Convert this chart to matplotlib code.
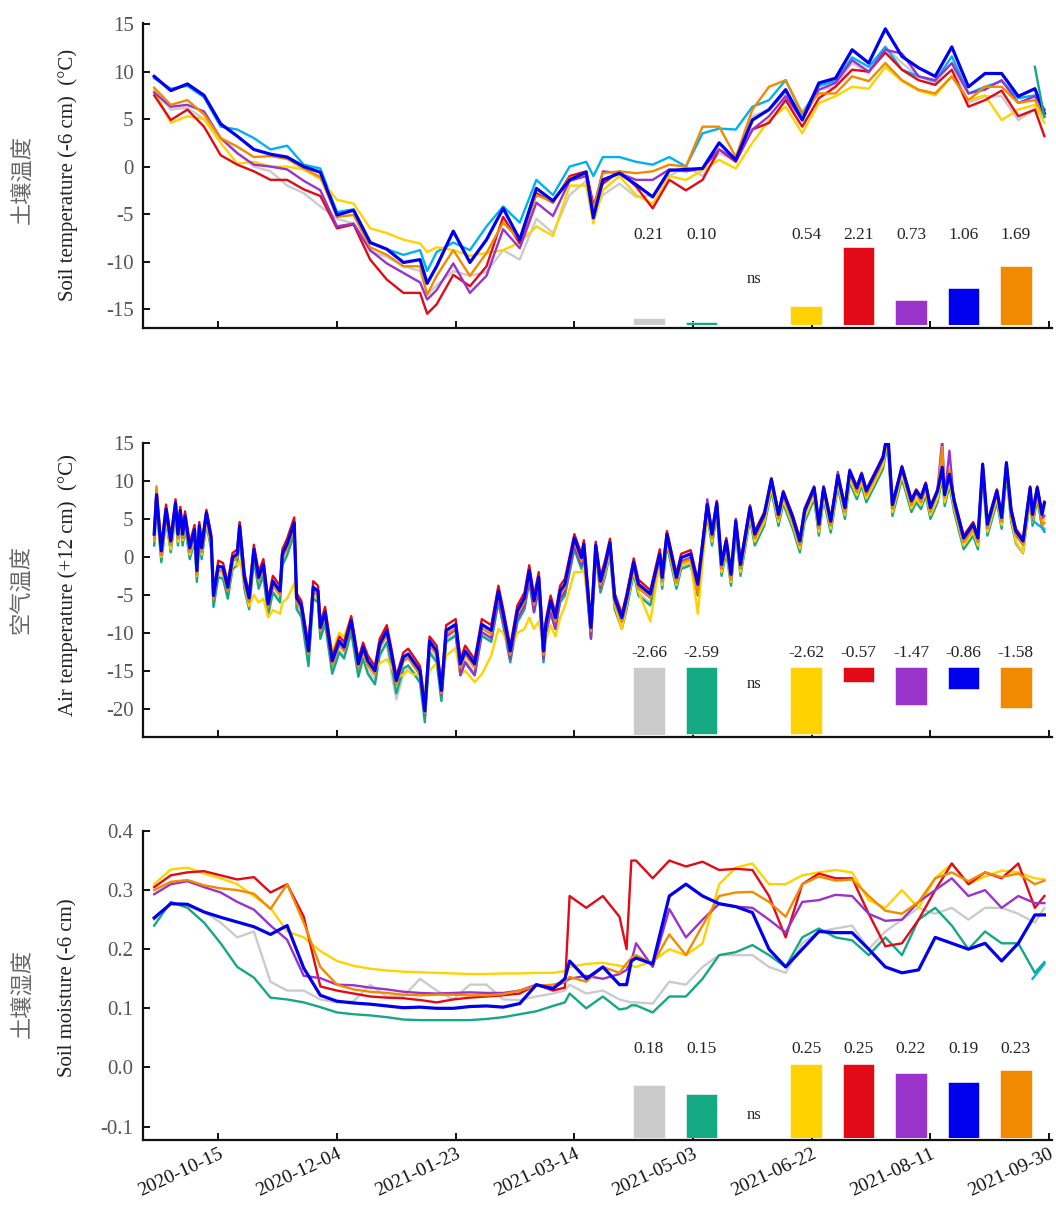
import numpy as np
import pandas as pd
import matplotlib
matplotlib.use("Agg")
import matplotlib.pyplot as plt
import matplotlib.dates as mdates

plt.rcParams['font.family'] = ['Liberation Serif', 'DejaVu Serif']
plt.rcParams['axes.unicode_minus'] = False

# ---------------- data ----------------
start_day = pd.Timestamp('2020-09-18')

# panel 1 : soil temperature (-6 cm) -- day offsets from start_day
soil_t_days = [0, 7, 14, 21, 28, 35, 42, 49, 56, 63, 70, 77, 84, 91, 98, 105, 112, 115, 119, 126, 133, 140, 147, 154,
               161, 168, 175, 182, 185, 189, 196, 203, 210, 217, 224, 231, 238, 245, 252, 259, 266, 273, 280, 287,
               294, 301, 308, 315, 322, 329, 336, 343, 350, 357, 364, 371, 375]
soil_t_gray = [8.0, 6.0, 6.2, 5.0, 3.0, 1.5, 0.0, -0.5, -2.0, -2.8, -4.2, -5.5, -6.0, -9.0, -9.5, -10.5, -11.0, -13.5,
               -12.5, -11.0, -11.5, -11.1, -8.8, -9.8, -5.5, -7.0, -3.0, -1.5, -5.0,
               -3.0, -1.8, -3.2, -3.0, -1.0, 0.0, -1.0, 1.4, 0.7, 5.3, 6.0, 7.7, 5.8, 8.1, 8.4, 10.9, 9.8, 12.6, 10.9,
               9.5, 8.8, 10.9, 6.7, 7.4, 7.4, 4.9, 6.0, 5.3]
soil_t_cyan = [9.3, 8.2, 8.5, 7.3, 4.2, 3.9, 3.0, 1.8, 2.2, 0.2, -0.2, -4.8, -4.5, -8.0, -8.7, -9.3, -8.8, -11.0,
               -9.0, -8.0, -8.8, -6.3, -4.2, -5.9, -1.4, -3.0, 0.0, 0.5, -1.0,
               1.0, 1.0, 0.5, 0.2, 1.0, 0.0, 3.5, 4.0, 3.9, 6.3, 7.0, 9.1, 5.5, 8.5, 9.0, 11.5, 10.5, 12.6, 10.2, 9.5,
               9.0, 11.6, 7.7, 8.4, 9.0, 7.2, 7.5, 6.0]
soil_t_yellow = [8.0, 4.6, 5.3, 5.0, 2.5, 0.3, 0.5, 0.0, 0.0, -0.3, -1.3, -3.5, -3.9, -6.5, -7.0, -7.7, -8.1, -9.0,
                 -8.5, -8.8, -9.4, -9.1, -8.8, -8.0, -6.3, -7.3, -2.0, -2.0, -6.0,
                 -2.5, -1.0, -3.0, -3.9, -1.0, -1.4, -0.4, 0.7, -0.2, 2.5, 4.9, 6.3, 3.5, 6.7, 7.4, 8.4, 8.2, 10.5, 9.0,
                 8.0, 7.5, 9.5, 7.0, 7.5, 4.9, 6.0, 6.5, 4.6]
soil_t_red = [7.5, 4.9, 6.0, 4.2, 1.2, 0.2, -0.5, -1.4, -1.4, -2.4, -3.1, -6.5, -6.1, -9.8, -11.9, -13.3, -13.3, -15.5,
              -14.5, -11.4, -12.6, -10.5, -5.3, -8.1, -2.8, -3.8, -1.0, -0.5, -4.0,
              -1.8, -0.5, -2.1, -4.4, -1.4, -2.5, -1.4, 1.8, 0.5, 3.9, 4.6, 7.0, 4.2, 7.2, 8.4, 10.2, 10.0, 12.0, 10.2,
              9.1, 8.6, 10.2, 6.3, 7.0, 8.0, 5.3, 6.0, 3.2]
soil_t_purple = [7.8, 6.3, 6.5, 5.8, 3.0, 1.4, 0.2, 0.0, -0.3, -1.5, -2.5, -6.3, -6.0, -8.8, -10.2, -11.2, -12.2, -14.0,
                 -13.0, -10.2, -13.3, -11.5, -6.6, -8.6, -3.8, -5.2, -1.5, -1.0, -4.5,
                 -0.5, -0.7, -1.4, -1.4, -0.3, -0.5, -0.2, 1.8, 0.7, 3.9, 5.3, 7.4, 4.9, 8.1, 8.8, 11.2, 10.0, 12.3,
                 11.9, 9.5, 9.1, 10.9, 7.7, 8.1, 9.1, 6.7, 7.4, 6.0]
soil_t_orange = [8.3, 6.5, 7.0, 5.5, 3.0, 2.1, 1.0, 1.1, 0.8, -0.2, -1.1, -5.3, -5.1, -8.5, -9.3, -10.5, -10.5, -13.5,
                 -11.5, -8.8, -11.5, -9.1, -5.9, -7.7, -3.0, -3.7, -1.2, -0.8, -4.5,
                 -0.7, -0.5, -0.7, -0.5, 0.2, 0.0, 4.2, 4.2, 1.0, 6.0, 8.4, 9.1, 5.6, 7.7, 7.7, 9.5, 9.0, 10.9, 9.1,
                 8.1, 7.7, 9.5, 7.0, 8.4, 8.4, 6.7, 7.0, 5.3]
soil_t_blue = [9.5, 8.0, 8.7, 7.5, 4.5, 3.2, 1.8, 1.3, 1.0, 0.0, -0.6, -5.1, -4.6, -8.0, -8.7, -10.1, -9.8, -12.3,
               -10.5, -6.8, -10.1, -7.7, -4.4, -7.7, -2.3, -3.6, -1.4, -0.6, -5.4,
               -1.4, -0.7, -1.9, -3.2, -0.4, -0.3, -0.2, 2.5, 0.7, 4.9, 6.0, 8.1, 4.9, 8.8, 9.3, 12.3, 10.9, 14.5, 11.6,
               10.4, 9.5, 12.6, 8.4, 9.8, 9.8, 7.4, 8.2, 5.6]
soil_t_green_days = [371, 375]
soil_t_green = [10.5, 5.2]

# panel 2 : air temperature (+12 cm)
air_t_days = [0, 1, 3, 5, 7, 9, 10, 11, 12, 13,
              15, 17, 18, 19, 20, 22, 24, 25, 27, 29,
              31, 33, 35, 36, 38, 40, 42, 44, 46, 48,
              50, 53, 54, 56, 59, 60, 62, 65, 67, 69,
              70, 72, 75, 78, 80, 83, 86, 88, 90, 93,
              95, 98, 100, 102, 105, 107, 109, 112, 114, 116,
              119, 121, 123, 127, 129, 131, 135, 138, 142, 145,
              147, 150, 153, 156, 158, 160, 162, 164, 165, 167,
              169, 171, 173, 177, 180, 181, 184, 186, 188, 190,
              192, 194, 197, 199, 202, 204, 209, 213, 214, 216,
              220, 222, 226, 229, 233, 235, 237, 239, 241, 243,
              245, 247, 251, 253, 257, 260, 263, 265, 269, 272,
              274, 278, 280, 282, 285, 288, 291, 293, 296, 298,
              300, 305, 307, 309, 311, 315, 319, 321, 323, 325,
              327, 330, 332, 333, 335, 337, 341, 345, 347, 349,
              351, 355, 357, 359, 361, 363, 366, 369, 370, 372,
              374, 375]
air_t_blue = [3.0, 8.2, 0.8, 6.3, 2.1, 7.1, 3.0, 6.1, 3.0, 5.4,
              1.2, 3.6, -1.8, 4.1, 1.2, 5.8, 2.5, -5.1, -1.2, -1.4,
              -4.0, -0.1, 0.4, 4.1, -2.7, -5.4, 1.0, -2.7, -1.0, -6.2,
              -3.2, -4.5, 0.4, 1.7, 4.5, -5.4, -6.4, -12.4, -4.0, -4.5,
              -9.3, -7.3, -13.7, -11.1, -11.9, -8.4, -14.1, -11.9, -13.7, -15.0,
              -11.5, -9.7, -12.8, -16.3, -13.2, -12.8, -13.7, -15.0, -20.3, -11.1,
              -12.4, -17.6, -9.7, -8.9, -14.1, -12.4, -14.1, -8.9, -9.7, -4.5,
              -7.5, -12.4, -7.1, -5.4, -1.8, -5.8, -2.7, -12.4, -8.9, -5.8,
              -8.0, -4.5, -3.6, 2.5, -0.1, 1.7, -9.3, 1.5, -3.2, -1.0,
              1.9, -5.4, -8.0, -5.4, -0.7, -3.6, -4.9, 0.4, -2.7, 3.0,
              -2.7, -0.1, 0.4, -3.6, 6.9, 3.0, 7.1, -1.0, 2.1, -2.3,
              4.7, -1.0, 6.5, 3.0, 5.6, 10.2, 5.6, 8.5, 5.2, 2.1,
              6.1, 9.1, 4.3, 9.1, 4.7, 10.7, 6.5, 11.3, 9.1, 10.9,
              8.7, 11.8, 13.1, 16.4, 6.9, 11.8, 7.4, 8.7, 7.8, 9.6,
              6.5, 8.7, 11.8, 8.2, 10.9, 7.4, 2.5, 4.3, 2.5, 12.2,
              4.3, 8.7, 5.2, 12.4, 6.1, 3.4, 2.1, 9.1, 5.6, 9.1,
              5.6, 7.1]
air_t_red = [3.4, 8.8, 1.3, 6.9, 2.6, 7.6, 3.5, 6.6, 3.5, 6.0,
             1.8, 4.2, -1.2, 4.6, 1.8, 6.2, 3.0, -4.6, -0.5, -0.8,
             -3.4, 0.5, 1.0, 4.6, -2.1, -4.8, 1.6, -2.0, -0.3, -5.6,
             -2.5, -3.8, 1.0, 2.4, 5.2, -4.8, -5.8, -11.8, -3.2, -3.8,
             -8.7, -6.6, -13.1, -10.5, -11.2, -7.8, -13.5, -11.3, -13.0, -14.4,
             -10.8, -9.0, -12.2, -15.7, -12.6, -12.1, -13.0, -14.4, -19.8, -10.5,
             -11.7, -17.0, -9.0, -8.2, -13.5, -11.7, -13.5, -8.2, -9.0, -3.8,
             -6.8, -11.8, -6.4, -4.7, -1.1, -5.1, -2.0, -11.8, -8.3, -5.1,
             -7.4, -3.8, -2.9, 3.0, 0.4, 2.2, -8.8, 2.0, -2.6, -0.4,
             2.4, -4.8, -7.5, -4.9, -0.2, -3.0, -4.4, 1.0, -2.0, 3.4,
             -2.2, 0.4, 0.9, -3.1, 7.2, 3.4, 7.4, -0.6, 2.5, -1.9,
             5.0, -0.6, 6.8, 3.4, 5.9, 10.4, 5.9, 8.7, 5.5, 2.4,
             6.4, 9.3, 4.6, 9.3, 5.0, 10.9, 6.8, 11.5, 9.3, 11.1,
             8.9, 12.0, 13.3, 16.5, 7.1, 12.0, 7.6, 8.9, 8.0, 9.8,
             6.7, 8.9, 12.0, 8.4, 11.1, 7.6, 2.8, 4.6, 2.8, 12.3,
             4.6, 8.9, 5.5, 12.5, 6.4, 3.7, 2.4, 9.3, 5.9, 9.3,
             5.9, 7.3]
air_t_orange = [2.3, 9.3, 0.3, 5.8, 1.6, 6.6, 2.5, 5.6, 2.5, 4.9,
                0.7, 3.1, -2.3, 3.6, 0.7, 5.3, 2.0, -5.6, -1.7, -1.9,
                -4.5, -0.6, -0.1, 3.6, -3.2, -5.9, 0.5, -3.2, -1.5, -6.7,
                -3.7, -5.0, -0.1, 1.2, 4.0, -5.9, -6.9, -12.9, -4.5, -5.0,
                -9.8, -7.8, -14.2, -11.6, -12.4, -8.9, -14.6, -12.4, -14.2, -15.5,
                -12.0, -10.2, -13.3, -16.8, -13.7, -13.3, -14.2, -15.5, -20.6, -11.6,
                -12.9, -18.0, -10.2, -9.4, -14.6, -12.9, -14.6, -9.4, -10.2, -5.0,
                -8.0, -12.9, -7.6, -5.9, -2.3, -6.3, -3.2, -12.9, -9.4, -6.3,
                -8.5, -5.0, -4.1, 2.0, -0.6, 1.2, -9.8, 1.0, -3.7, -1.5,
                1.4, -5.9, -8.5, -5.9, -1.2, -4.1, -5.4, -0.1, -3.2, 2.5,
                -3.4, -0.8, -0.3, -4.8, 6.4, 2.5, 6.6, -1.5, 1.6, -3.0,
                4.2, -1.5, 6.0, 2.5, 5.1, 9.9, 5.1, 8.0, 4.7, 1.6,
                6.3, 8.6, 3.8, 8.8, 4.2, 10.2, 6.0, 10.8, 8.6, 10.4,
                8.2, 11.3, 12.8, 16.0, 6.4, 11.6, 6.9, 8.5, 7.3, 9.1,
                6.0, 8.6, 14.5, 7.8, 11.5, 6.9, 2.0, 3.8, 2.0, 11.8,
                3.8, 8.5, 4.7, 12.3, 5.6, 2.9, 1.6, 8.6, 5.1, 8.6,
                4.1, 4.5]
air_t_purple = [2.5, 7.6, 0.3, 5.7, 1.6, 6.6, 2.5, 5.6, 2.5, 4.9,
                0.7, 3.1, -2.3, 3.6, 0.7, 5.3, 2.0, -5.6, -1.7, -1.9,
                -4.5, -0.6, -0.1, 3.6, -3.2, -5.9, 0.5, -3.2, -1.5, -6.7,
                -3.7, -5.0, -0.1, 1.2, 4.0, -5.9, -6.9, -12.9, -4.5, -5.0,
                -9.8, -7.8, -14.2, -11.6, -12.4, -8.9, -14.6, -12.4, -14.2, -15.5,
                -12.0, -10.2, -13.3, -16.8, -13.7, -13.3, -14.2, -15.5, -20.8, -11.6,
                -12.9, -18.2, -10.5, -9.6, -15.6, -13.9, -15.6, -9.9, -10.7, -5.5,
                -8.5, -13.4, -8.1, -6.4, -2.8, -7.3, -3.7, -13.4, -9.9, -7.3,
                -9.5, -5.5, -4.6, 1.5, -1.1, 0.7, -10.8, 0.5, -4.2, -1.5,
                1.4, -5.9, -8.5, -5.9, -1.2, -4.1, -5.4, -0.1, -3.2, 2.5,
                -3.2, -0.6, -0.1, -4.1, 7.6, 2.5, 6.8, -1.5, 1.6, -2.8,
                4.4, -1.5, 6.2, 2.5, 5.3, 10.0, 5.1, 8.2, 4.7, 1.6,
                5.8, 8.9, 3.8, 9.3, 4.2, 11.2, 6.0, 11.5, 8.6, 10.6,
                8.4, 11.6, 12.9, 16.2, 6.4, 11.6, 6.9, 8.5, 7.3, 9.4,
                6.0, 9.0, 15.5, 8.0, 14.0, 6.9, 2.0, 3.8, 2.0, 11.9,
                3.8, 8.5, 4.7, 12.0, 5.6, 2.9, 1.6, 8.6, 5.1, 8.6,
                5.1, 5.4]
air_t_green = [1.5, 6.7, -0.7, 4.8, 0.6, 5.6, 1.5, 4.6, 1.5, 3.9,
               -0.3, 2.1, -3.3, 2.6, -0.3, 4.3, 1.0, -6.6, -2.7, -2.9,
               -5.5, -1.6, -1.1, 2.6, -4.2, -6.9, -0.5, -4.2, -2.5, -7.7,
               -4.7, -6.0, -1.1, 0.2, 3.0, -6.9, -7.9, -14.4, -5.5, -6.0,
               -10.8, -8.8, -15.4, -12.6, -13.4, -9.9, -15.8, -13.4, -15.4, -16.8,
               -13.0, -11.2, -14.3, -18.0, -14.7, -14.3, -15.2, -16.6, -21.8, -12.6,
               -13.9, -19.0, -11.2, -10.4, -15.6, -13.9, -15.6, -10.4, -11.2, -6.0,
               -9.0, -13.9, -8.6, -6.9, -3.3, -7.3, -4.2, -13.9, -10.4, -7.3,
               -9.5, -6.0, -5.1, 1.0, -1.6, 0.2, -10.8, -0.2, -4.7, -2.5,
               0.4, -6.9, -9.5, -6.9, -2.2, -5.1, -6.4, -1.1, -4.2, 1.5,
               -4.2, -1.6, -1.1, -5.1, 5.4, 1.5, 5.6, -2.5, 0.6, -3.8,
               3.2, -2.5, 5.0, 1.5, 4.1, 8.7, 4.1, 7.0, 3.7, 0.6,
               4.6, 7.6, 2.8, 7.6, 3.2, 9.2, 5.0, 9.8, 7.6, 9.4,
               7.2, 10.3, 11.6, 14.9, 5.4, 10.3, 5.9, 7.2, 6.3, 8.1,
               5.0, 7.2, 10.3, 6.7, 9.4, 5.9, 1.0, 2.8, 1.0, 10.7,
               2.8, 7.2, 3.7, 10.9, 4.6, 1.9, 0.6, 7.6, 4.1, 7.6,
               4.0, 3.3]
air_t_gray = [1.8, 7.0, -0.4, 5.1, 0.9, 5.9, 1.8, 4.9, 1.8, 4.2,
              0.0, 2.4, -3.0, 2.9, 0.0, 4.6, 1.3, -6.3, -2.4, -2.6,
              -5.2, -1.3, -0.8, 2.9, -3.9, -6.6, -0.2, -3.9, -2.2, -7.4,
              -4.4, -5.7, -0.8, 0.5, 3.3, -6.6, -7.6, -13.6, -5.2, -5.7,
              -10.5, -8.5, -14.9, -12.3, -13.1, -9.6, -15.3, -13.1, -14.9, -16.2,
              -12.7, -11.5, -15.5, -18.8, -15.5, -14.5, -15.0, -16.2, -21.0, -12.3,
              -13.6, -18.8, -10.9, -10.1, -15.3, -13.6, -15.3, -10.1, -10.9, -5.7,
              -8.7, -13.6, -8.3, -6.6, -3.0, -7.0, -3.9, -13.6, -10.1, -7.0,
              -9.2, -5.7, -4.8, 1.3, -1.3, 0.5, -10.5, 0.1, -4.4, -2.2,
              0.7, -6.6, -9.2, -6.6, -1.9, -4.8, -6.1, -0.8, -3.9, 1.8,
              -3.9, -1.3, -0.8, -4.8, 5.7, 1.8, 5.9, -2.2, 0.9, -3.5,
              3.5, -2.2, 5.3, 1.8, 4.4, 9.0, 4.4, 7.3, 4.0, 0.9,
              4.9, 7.9, 3.1, 7.9, 3.5, 9.5, 5.3, 10.1, 7.9, 9.7,
              7.5, 10.6, 11.9, 15.2, 5.7, 10.6, 6.2, 7.5, 6.6, 8.4,
              5.3, 7.5, 10.6, 7.0, 9.7, 6.2, 1.3, 3.1, 1.3, 11.0,
              3.1, 7.5, 4.0, 11.2, 4.9, 1.6, 0.4, 7.9, 4.4, 7.9,
              3.6, 3.8]
air_t_yellow = [2.2, 6.5, 0.0, 5.0, 1.0, 6.0, 2.0, 5.0, 2.2, 4.4,
                0.3, 2.5, -2.5, 3.0, 0.3, 4.6, 1.5, -5.0, -2.0, -2.2,
                -4.5, -1.2, -1.0, -0.5, -3.5, -6.5, -5.0, -6.0, -5.5, -8.0,
                -7.0, -7.5, -6.0, -5.5, -3.5, -6.0, -7.0, -11.0, -5.0, -5.5,
                -9.5, -7.0, -12.5, -10.0, -10.5, -8.0, -13.5, -12.5, -14.5, -15.0,
                -14.0, -13.5, -14.5, -16.0, -15.5, -15.0, -15.5, -15.5, -17.5, -15.0,
                -14.0, -16.5, -13.0, -12.0, -15.5, -15.0, -16.5, -15.5, -13.0, -9.5,
                -10.0, -12.5, -10.0, -9.5, -8.0, -9.5, -8.5, -11.5, -11.0, -9.0,
                -10.5, -8.0, -6.5, -2.0, -2.0, -1.5, -9.5, -0.5, -4.2, -2.0,
                0.8, -6.4, -9.5, -6.4, -1.7, -4.6, -8.5, -0.6, -3.7, 2.0,
                -3.7, -1.1, -0.6, -7.5, 5.9, 2.0, 6.1, -2.0, 1.1, -3.3,
                3.7, -2.0, 5.5, 2.0, 4.6, 9.2, 4.6, 7.5, 4.2, 1.1,
                5.1, 8.1, 3.3, 8.1, 3.7, 9.7, 5.5, 10.3, 8.1, 9.9,
                7.7, 10.8, 12.1, 15.4, 5.9, 10.8, 6.4, 7.7, 6.8, 8.6,
                5.5, 7.7, 10.8, 7.2, 9.9, 6.4, 1.5, 3.3, 1.5, 11.2,
                3.3, 7.7, 4.2, 11.4, 5.1, 2.0, 0.6, 8.1, 4.6, 8.1,
                4.6, 5.0]
air_t_cyan_days = [370, 375]
air_t_cyan = [4.8, 3.6]

# panel 3 : soil moisture (-6 cm)
soil_m_days = [0, 7, 14, 21, 28, 35, 42, 49, 56, 63, 70, 77, 84, 91, 98, 105, 112, 119, 126, 133, 140, 147, 154, 161,
               168, 173, 175, 182, 189, 196, 199, 201, 203, 210, 217, 224, 231, 238, 245, 252, 259, 266, 273, 280,
               287, 294, 301, 308, 315, 322, 329, 336, 343, 350, 357, 364, 371, 375]
soil_m_gray = [0.25, 0.277, 0.273, 0.263, 0.245, 0.22, 0.23, 0.145, 0.13, 0.13, 0.115, 0.11, 0.112, 0.14, 0.12, 0.12,
               0.15, 0.13, 0.115, 0.14, 0.14, 0.115, 0.114, 0.12, 0.125, 0.13, 0.14, 0.125, 0.13, 0.115, 0.112, 0.11,
               0.11, 0.108, 0.145, 0.14, 0.17, 0.19, 0.19, 0.19, 0.17, 0.16, 0.21, 0.23, 0.235, 0.24, 0.2, 0.23, 0.25,
               0.27, 0.26, 0.27, 0.25, 0.27, 0.27, 0.26, 0.245, 0.27]
soil_m_green = [0.24, 0.28, 0.27, 0.245, 0.21, 0.17, 0.152, 0.118, 0.115, 0.11, 0.102, 0.093, 0.09, 0.088, 0.085,
                0.081, 0.08, 0.08, 0.08, 0.08, 0.082, 0.085, 0.09, 0.095, 0.104, 0.11, 0.125, 0.10, 0.12, 0.098, 0.1,
                0.105, 0.105, 0.093, 0.12, 0.12, 0.15, 0.19, 0.195, 0.207, 0.19, 0.17, 0.22, 0.235, 0.22, 0.215, 0.19,
                0.22, 0.19, 0.25, 0.27, 0.24, 0.2, 0.23, 0.21, 0.21, 0.16, 0.178]
soil_m_yellow = [0.31, 0.335, 0.338, 0.328, 0.32, 0.31, 0.29, 0.27, 0.23, 0.22, 0.197, 0.18, 0.172, 0.167, 0.164,
                 0.162, 0.161, 0.16, 0.159, 0.158, 0.158, 0.159, 0.159, 0.16, 0.16, 0.163, 0.17, 0.175, 0.177, 0.172,
                 0.17, 0.172, 0.17, 0.18, 0.2, 0.19, 0.21, 0.31, 0.338, 0.345, 0.31, 0.31, 0.325, 0.33, 0.334, 0.33,
                 0.283, 0.27, 0.3, 0.27, 0.32, 0.345, 0.31, 0.323, 0.333, 0.33, 0.32, 0.318]
soil_m_red = [0.305, 0.325, 0.33, 0.332, 0.325, 0.318, 0.322, 0.296, 0.31, 0.255, 0.137, 0.13, 0.125, 0.12, 0.118,
              0.117, 0.114, 0.11, 0.115, 0.118, 0.12, 0.122, 0.125, 0.14, 0.13, 0.135, 0.29, 0.27, 0.29, 0.255, 0.2,
              0.35, 0.35, 0.32, 0.35, 0.34, 0.348, 0.334, 0.336, 0.334, 0.29, 0.22, 0.31, 0.328, 0.32, 0.32, 0.26,
              0.205, 0.21, 0.25, 0.30, 0.345, 0.31, 0.33, 0.32, 0.345, 0.27, 0.29]
soil_m_purple = [0.293, 0.31, 0.315, 0.305, 0.296, 0.28, 0.267, 0.24, 0.216, 0.155, 0.151, 0.14, 0.139, 0.135, 0.132,
                 0.128, 0.126, 0.125, 0.126, 0.127, 0.126, 0.126, 0.13, 0.14, 0.135, 0.145, 0.15, 0.155, 0.15, 0.158,
                 0.165, 0.18, 0.21, 0.17, 0.268, 0.22, 0.25, 0.277, 0.272, 0.27, 0.25, 0.228, 0.28, 0.283, 0.292,
                 0.29, 0.26, 0.248, 0.25, 0.28, 0.30, 0.32, 0.29, 0.30, 0.27, 0.29, 0.278, 0.278]
soil_m_orange = [0.30, 0.314, 0.317, 0.308, 0.303, 0.30, 0.294, 0.268, 0.31, 0.245, 0.17, 0.14, 0.132, 0.128, 0.126,
                 0.123, 0.122, 0.123, 0.123, 0.122, 0.122, 0.124, 0.13, 0.138, 0.14, 0.145, 0.153, 0.145, 0.17, 0.16,
                 0.176, 0.185, 0.19, 0.175, 0.225, 0.19, 0.24, 0.29, 0.296, 0.297, 0.28, 0.255, 0.31, 0.323, 0.316,
                 0.318, 0.29, 0.265, 0.26, 0.28, 0.32, 0.33, 0.315, 0.33, 0.322, 0.328, 0.31, 0.316]
soil_m_blue = [0.253, 0.277, 0.276, 0.263, 0.254, 0.246, 0.238, 0.225, 0.24, 0.168, 0.122, 0.112, 0.109, 0.107, 0.104,
               0.101, 0.102, 0.10, 0.10, 0.103, 0.104, 0.102, 0.108, 0.14, 0.133, 0.15, 0.18, 0.15, 0.17, 0.14, 0.14,
               0.18, 0.185, 0.175, 0.29, 0.31, 0.29, 0.277, 0.272, 0.262, 0.2, 0.17, 0.2, 0.23, 0.228, 0.228, 0.2,
               0.17, 0.16, 0.165, 0.22, 0.21, 0.2, 0.21, 0.18, 0.21, 0.258, 0.258]
soil_m_cyan_days = [370, 375]
soil_m_cyan = [0.15, 0.175]

# inset bar values (slot order: gray, green, cyan(ns), yellow, red, purple, blue, orange)
bar_soil_t = [0.21, 0.10, None, 0.54, 2.21, 0.73, 1.06, 1.69]
bar_air_t = [-2.66, -2.59, None, -2.62, -0.57, -1.47, -0.86, -1.58]
bar_soil_m = [0.18, 0.15, None, 0.25, 0.25, 0.22, 0.19, 0.23]

x_ticks = pd.date_range('2020-10-15', periods=8, freq='50D')

# ---------------- styling ----------------
C = {'gray': '#cbcbcb', 'green': '#14a883', 'cyan': '#00b0f0', 'yellow': '#ffd200',
     'red': '#e20a17', 'purple': '#9933cc', 'orange': '#f28a00', 'blue': '#0000ee'}
bar_colors = [C['gray'], C['green'], C['cyan'], C['yellow'], C['red'], C['purple'], C['blue'], C['orange']]

W, H = 1056, 1209
fig = plt.figure(figsize=(W / 100, H / 100), dpi=100)


def to_dates(days):
    return start_day + pd.to_timedelta(days, unit='D')


def rect(x0, y0, x1, y1):
    return [x0 / W, 1 - y1 / H, (x1 - x0) / W, (y1 - y0) / H]


xlim = (pd.Timestamp('2020-09-13 10:00'), pd.Timestamp('2021-10-01 05:00'))


def style_axis(ax, ylim, yticks, yfmt, show_x):
    ax.set_xlim(*xlim)
    ax.set_ylim(*ylim)
    for s in ['top', 'right']:
        ax.spines[s].set_visible(False)
    for s in ['left', 'bottom']:
        ax.spines[s].set_linewidth(1.6)
        ax.spines[s].set_color('#111111')
    ax.set_yticks(yticks)
    ax.set_yticklabels([yfmt.format(v) for v in yticks])
    ax.set_xticks(x_ticks)
    ax.tick_params(axis='both', direction='in', length=5, width=1.4, color='#111111')
    ax.tick_params(axis='y', labelsize=15, labelcolor='#555555', pad=7)
    if show_x:
        ax.xaxis.set_major_formatter(mdates.DateFormatter('%Y-%m-%d'))
        ax.tick_params(axis='x', labelsize=14, labelcolor='#111111', pad=4)
        for lab in ax.get_xticklabels():
            lab.set_rotation(25)
            lab.set_ha('right')
            lab.set_rotation_mode('anchor')
    else:
        ax.tick_params(axis='x', labelbottom=False)


def draw_lines(ax, days, series, extra):
    d = to_dates(days)
    for name, vals in series:
        assert len(vals) == len(days), (name, len(vals), len(days))
        lw = 2.3 if name == 'blue' else 1.7
        ax.plot(d, vals, color=C[name], lw=lw, solid_joinstyle='round')
    for name, dd, vals in extra:
        ax.plot(to_dates(dd), vals, color=C[name], lw=1.7)


def add_bars(r, values, ylim, label_y, ns_y):
    iax = fig.add_axes(r)
    iax.set_xlim(-0.5, 7.5)
    iax.set_ylim(*ylim)
    iax.axis('off')
    for i, v in enumerate(values):
        if v is None:
            iax.text(i, ns_y, 'ns', ha='center', va='center', fontsize=12, color='#222222')
        else:
            iax.bar(i, v, width=0.6, color=bar_colors[i], edgecolor='white', linewidth=0.4)
            iax.text(i, label_y, f'{v:.2f}', ha='center', va='center', fontsize=12.5, color='#222222')


# panel 1
ax1 = fig.add_axes(rect(143.3, 22.7, 1052, 328))
draw_lines(ax1, soil_t_days,
           [('gray', soil_t_gray), ('cyan', soil_t_cyan), ('yellow', soil_t_yellow), ('red', soil_t_red),
            ('purple', soil_t_purple), ('orange', soil_t_orange), ('blue', soil_t_blue)],
           [('green', soil_t_green_days, soil_t_green)])
style_axis(ax1, (-17.0, 15.15), [-15, -10, -5, 0, 5, 10, 15], '{:d}', False)
add_bars(rect(622.8, 225, 1042, 325.3), bar_soil_t, (0, 2.84), 2.56, 1.30)

# panel 2
ax2 = fig.add_axes(rect(143.3, 442.7, 1052, 736.7))
draw_lines(ax2, air_t_days,
           [('gray', air_t_gray), ('green', air_t_green), ('yellow', air_t_yellow), ('red', air_t_red),
            ('purple', air_t_purple), ('orange', air_t_orange), ('blue', air_t_blue)],
           [('cyan', air_t_cyan_days, air_t_cyan)])
style_axis(ax2, (-23.7, 15.05), [-20, -15, -10, -5, 0, 5, 10, 15], '{:d}', False)
add_bars(rect(622.8, 645, 1042, 740), bar_air_t, (-2.84, 0.87), 0.55, -0.66)

# panel 3
ax3 = fig.add_axes(rect(143.3, 830.7, 1052, 1140))
draw_lines(ax3, soil_m_days,
           [('gray', soil_m_gray), ('green', soil_m_green), ('yellow', soil_m_yellow), ('red', soil_m_red),
            ('purple', soil_m_purple), ('orange', soil_m_orange), ('blue', soil_m_blue)],
           [('cyan', soil_m_cyan_days, soil_m_cyan)])
style_axis(ax3, (-0.1228, 0.4005), [-0.1, 0.0, 0.1, 0.2, 0.3, 0.4], '{:.1f}', True)
add_bars(rect(622.8, 1040, 1042, 1138.3), bar_soil_m, (0, 0.332), 0.302, 0.079)

# y labels
cjk = ['Noto Sans CJK SC', 'DejaVu Sans']
labels = [(175, 'Soil temperature (-6 cm)  (°C)', '土壤温度'),
          (585, 'Air temperature (+12 cm)  (°C)', '空气温度'),
          (988, 'Soil moisture (-6 cm)', '土壤湿度')]
for yc, en, zh in labels:
    fig.text(68 / W, 1 - yc / H, en, rotation=90, ha='center', va='center', fontsize=15, color='#222222')
    fig.text(22 / W, 1 - (yc + 5) / H, zh, rotation=90, ha='center', va='center', fontsize=16,
             color='#666666', family=cjk)

fig.savefig('out.png', dpi=100)
